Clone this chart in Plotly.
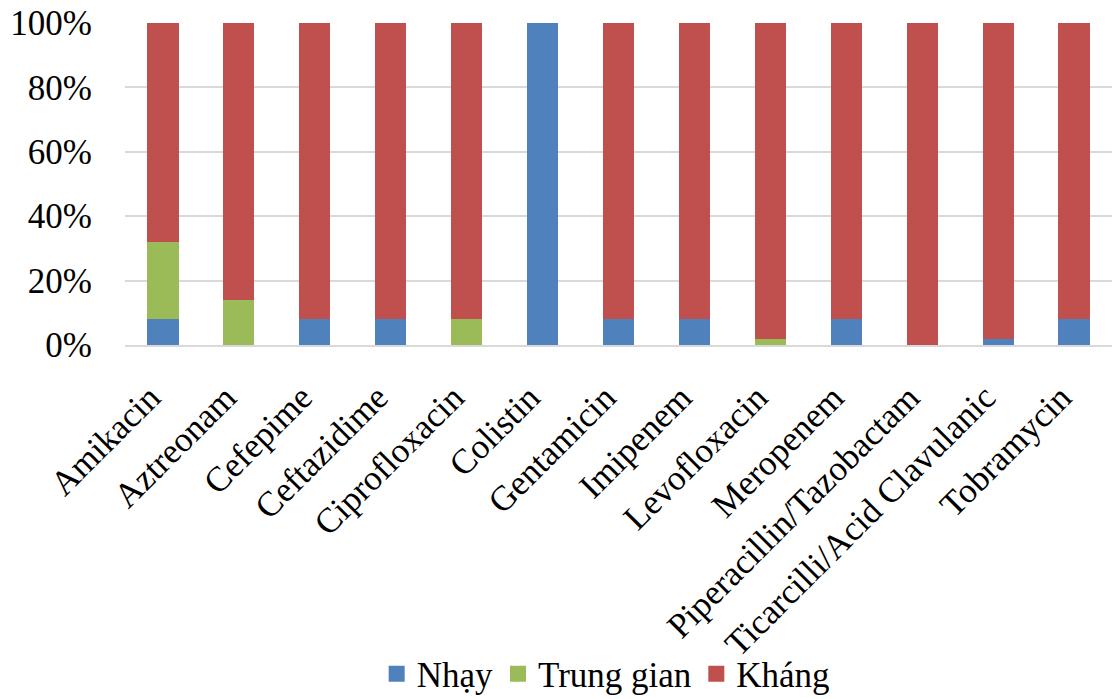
import plotly.graph_objects as go

categories = ["Amikacin", "Aztreonam", "Cefepime", "Ceftazidime", "Ciprofloxacin",
              "Colistin", "Gentamicin", "Imipenem", "Levofloxacin", "Meropenem",
              "Piperacillin/Tazobactam", "Ticarcilli/Acid Clavulanic", "Tobramycin"]
nhay = [8, 0, 8, 8, 0, 100, 8, 8, 0, 8, 0, 2, 8]
trung_gian = [24, 14, 0, 0, 8, 0, 0, 0, 2, 0, 0, 0, 0]
khang = [68, 86, 92, 92, 92, 0, 92, 92, 98, 92, 100, 98, 92]
y_ticks = [0, 20, 40, 60, 80, 100]
y_tick_labels = ["0%", "20%", "40%", "60%", "80%", "100%"]

series = [("Nhạy", nhay, "#4F81BD"),
          ("Trung gian", trung_gian, "#9BBB59"),
          ("Kháng", khang, "#C0504D")]

FONT = "Liberation Serif, Times New Roman, serif"

fig = go.Figure()
for name, vals, color in series:
    fig.add_trace(go.Bar(x=categories, y=vals, name=name, marker_color=color,
                         marker_line_width=0, legendgroup=name, showlegend=False))
    # square legend key, larger than the default bar swatch
    fig.add_trace(go.Scatter(x=[None], y=[None], mode="markers", name=name,
                             legendgroup=name,
                             marker=dict(symbol="square", size=17, color=color)))

fig.update_layout(
    barmode="stack",
    bargap=0.59,
    width=1112, height=699,
    margin=dict(l=125, r=0, t=23, b=354, autoexpand=False),
    plot_bgcolor="white", paper_bgcolor="white",
    font=dict(family=FONT, size=35, color="black"),
    legend=dict(orientation="h", x=0.487, xanchor="center", y=-1.022, yanchor="middle",
                font=dict(size=35), itemwidth=30, traceorder="normal",
                bgcolor="rgba(0,0,0,0)"),
    showlegend=True,
)
fig.update_yaxes(range=[0, 100], tickmode="array", tickvals=y_ticks, ticktext=y_tick_labels,
                 showgrid=True, gridcolor="#D9D9D9", gridwidth=2, zeroline=False,
                 ticklabelstandoff=32, tickfont=dict(size=35))
fig.update_xaxes(tickangle=-45, showline=True, linecolor="#D9D9D9", linewidth=2,
                 automargin=False, tickfont=dict(size=35),
                 ticklabelstandoff=16, ticklabelshift=-13)

fig.write_html("out.html")
